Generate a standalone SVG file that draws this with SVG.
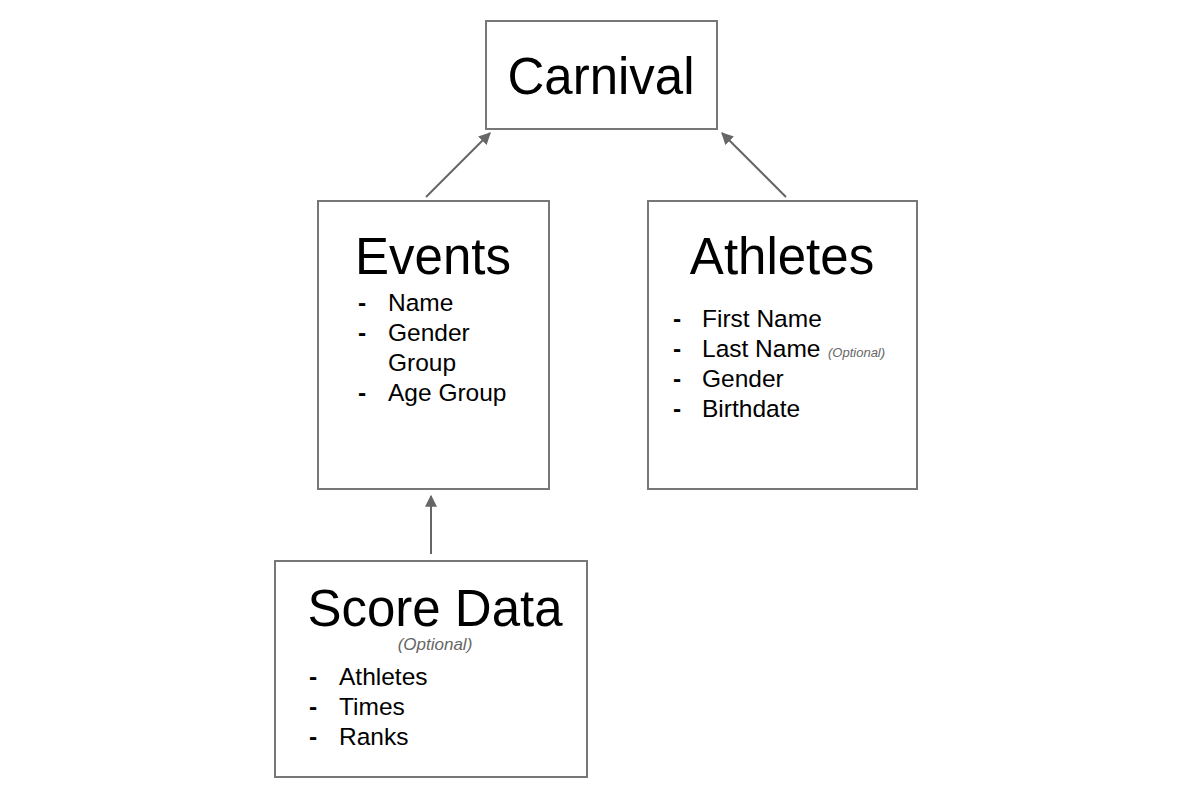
<svg xmlns="http://www.w3.org/2000/svg" width="1200" height="800" viewBox="0 0 1200 800">
<defs>
<style>
.box{fill:#fff;stroke:#777;stroke-width:2}
.title{font-family:"Liberation Sans",Arial,sans-serif;font-size:51px;fill:#000;text-anchor:middle}
.item{font-family:"Liberation Sans",Arial,sans-serif;font-size:24.5px;fill:#000}
.dash{font-family:"Liberation Sans",Arial,sans-serif;font-size:24.5px;font-weight:bold;fill:#000}
.opt{font-family:"Liberation Sans",Arial,sans-serif;font-style:italic;fill:#666}
.conn{stroke:#666;stroke-width:2;fill:none;marker-end:url(#arr)}
</style>
<marker id="arr" viewBox="0 0 10 10" refX="9" refY="5" markerWidth="6" markerHeight="6" orient="auto" markerUnits="strokeWidth">
<path d="M0,0 L10,5 L0,10 z" fill="#666"/>
</marker>
</defs>
<rect width="1200" height="800" fill="#fff"/>
<g id="connectors">
<line class="conn" x1="426" y1="197" x2="490" y2="133"/>
<line class="conn" x1="786" y1="197" x2="722" y2="133"/>
<line class="conn" x1="431" y1="554" x2="431" y2="496"/>
</g>
<g id="carnival">
<rect class="box" x="486" y="21" width="231" height="108"/>
<text class="title" x="601" y="94">Carnival</text>
</g>
<g id="events">
<rect class="box" x="318" y="201" width="231" height="288"/>
<text class="title" x="433" y="274">Events</text>
<text class="dash" x="358" y="311">-</text><text class="item" x="388" y="311">Name</text>
<text class="dash" x="358" y="341">-</text><text class="item" x="388" y="341">Gender</text>
<text class="item" x="388" y="371">Group</text>
<text class="dash" x="358" y="401">-</text><text class="item" x="388" y="401">Age Group</text>
</g>
<g id="athletes">
<rect class="box" x="648" y="201" width="269" height="288"/>
<text class="title" x="782" y="274">Athletes</text>
<text class="dash" x="673" y="327">-</text><text class="item" x="702" y="327">First Name</text>
<text class="dash" x="673" y="357">-</text><text class="item" x="702" y="357">Last Name</text>
<text class="opt" x="828" y="357" font-size="13">(Optional)</text>
<text class="dash" x="673" y="387">-</text><text class="item" x="702" y="387">Gender</text>
<text class="dash" x="673" y="417">-</text><text class="item" x="702" y="417">Birthdate</text>
</g>
<g id="scoredata">
<rect class="box" x="275" y="561" width="312" height="216"/>
<text class="title" x="435" y="626">Score Data</text>
<text class="opt" x="435" y="650" font-size="17" text-anchor="middle">(Optional)</text>
<text class="dash" x="309" y="685">-</text><text class="item" x="339" y="685">Athletes</text>
<text class="dash" x="309" y="715">-</text><text class="item" x="339" y="715">Times</text>
<text class="dash" x="309" y="745">-</text><text class="item" x="339" y="745">Ranks</text>
</g>
</svg>
